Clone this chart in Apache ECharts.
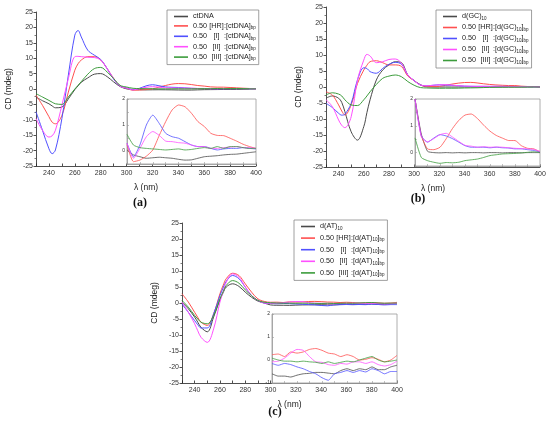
<!DOCTYPE html>
<html>
<head>
<meta charset="utf-8">
<script src="https://cdn.jsdelivr.net/npm/echarts@6/dist/echarts.min.js"></script>
<style>
  html, body { margin: 0; padding: 0; background: #fff; }
  #chart { width: 550px; height: 428px; }
</style>
</head>
<body>
<div id="chart"></div>
<script>
// wavelengths (nm) shared by every curve
const wavelength = [230,235,240,242.5,245,250,255,260,262.5,265,270,275,280,285,290,295,300,
  305,310,315,320,325,330,335,340,345,350,355,360,365,370,375,380,385,390,395,400];

// (a) ctDNA
const ctDNA = [-2.6,-3.8,-4.8,-5.5,-6.1,-5.9,-3.2,-0.2,1,2.2,3.6,4.8,5,4,2.3,0.8,0.04,
  -0.15,-0.22,-0.28,-0.26,-0.24,-0.26,-0.28,-0.32,-0.35,-0.34,-0.28,-0.22,-0.2,-0.18,-0.15,-0.13,-0.12,-0.09,-0.06,-0.03];
const hrCt = [-2,-5.3,-9,-10.8,-11.3,-8.6,-1,6.1,8.2,9.4,10.5,10.5,9.4,6.6,3.4,0.9,0.25,
  -0.41,-0.35,-0.2,0.04,0.6,1.13,1.58,1.77,1.7,1.45,1.13,0.94,0.68,0.6,0.59,0.49,0.38,0.26,0.17,0.1];
const iCt = [-7.4,-13.4,-19.4,-21,-19.8,-9.6,4.5,17.5,19,16.9,12.6,11,9.6,6.6,3.2,0.9,0.3,
  -0.22,0.23,1.0,1.38,1.06,0.68,0.55,0.49,0.36,0.23,0.17,0.17,0.1,0.04,0.08,0.1,0.1,0.13,0.1,0.08];
const iiCt = [-9.6,-13.4,-15.6,-15.2,-13.4,-5.3,3.4,10.5,10.6,10.5,10.3,10.2,9.4,6.6,3.4,0.9,0.3,
  -0.28,0.1,0.55,0.75,0.6,0.38,0.36,0.32,0.3,0.23,0.17,0.17,0.1,0.1,0.13,0.15,0.17,0.13,0.13,0.1];
const iiiCt = [-1.5,-2.6,-3.7,-4.3,-4.8,-5,-2.6,0,1.2,2.4,4.8,6.6,7,5.5,3.4,1.2,0.64,
  0.23,0.13,0.1,0.08,0.06,0.04,0.06,0.08,0.04,0.06,0.1,0.13,0.1,0.17,0.1,0.17,0.17,0.13,0.1,0.1];

// (b) d(GC)10
const gc10 = [-3.5,-2.8,-3.5,-4.8,-7.7,-14,-16.6,-12.4,-8,-4,2.2,5.3,6.9,7.9,7.6,3.75,2.0,
  0.7,0.05,0,-0.01,0,-0.01,0,-0.01,0,0,-0.01,0,0,-0.01,0,0,-0.01,0,0,0];
const hrGc = [-1.5,-2.5,-5.6,-7.5,-8.75,-5.6,1.1,5.3,6.8,7.9,8.2,7.6,6.9,6.9,6.4,3.4,2.0,
  0.64,0.14,0.11,0.2,0.52,0.9,1.2,1.4,1.44,1.27,1.02,0.8,0.64,0.54,0.45,0.45,0.26,0.16,0.14,0.02];
const iGc = [-5.1,-6.4,-8.2,-8.8,-8.5,-5.1,2.2,6,5.8,4.8,4.3,5.8,7.1,7.7,7.1,3.75,2.0,
  0.64,0.39,0.54,0.67,0.62,0.52,0.39,0.26,0.2,0.2,0.2,0.18,0.2,0.18,0.17,0.14,0.14,0.11,0.08,0.02];
const iiGc = [-4,-6.1,-10.3,-12,-12.7,-9.3,2.2,8.4,10.2,9.7,7.6,7.9,8.6,8.75,7.4,3.75,2.0,
  0.6,0.4,0.52,0.67,0.72,0.58,0.42,0.27,0.24,0.2,0.22,0.2,0.21,0.2,0.18,0.16,0.15,0.14,0.12,0.05];
const iiiGc = [-2.5,-1.8,-2.2,-2.8,-4,-5.6,-5.8,-4,-2.8,-1.5,0.8,2.7,3.4,3.75,3.2,1.7,0.55,
  -0.18,-0.3,-0.36,-0.4,-0.37,-0.38,-0.36,-0.3,-0.27,-0.24,-0.18,-0.11,-0.08,-0.05,-0.04,-0.03,-0.01,0.01,0.03,0];

// (c) d(AT)10
const at10 = [0.3,-1.8,-4.4,-6,-7.6,-9,-4.4,1,3.2,5,6,5.2,3.4,1.8,0.6,0,-0.6,
  -0.7,-0.7,-0.74,-0.66,-0.6,-0.58,-0.54,-0.54,-0.57,-0.6,-0.46,-0.38,-0.46,-0.38,-0.42,-0.3,-0.42,-0.42,-0.3,-0.23];
const hrAt = [2.9,0.3,-2.9,-4.5,-6,-7,-3.4,2.9,5.5,7.6,9.3,8.6,6,3.4,1.3,0.5,0.23,
  0.26,0.15,0.35,0.3,0.35,0.46,0.5,0.42,0.3,0.26,0.15,0.23,0.15,0,0.03,0.1,0.03,-0.08,0,0.2];
const iAt = [-0.3,-2.9,-5.5,-6.8,-7.8,-7.8,-3.4,2.3,4.7,6.8,8.6,7.6,5,2.3,0.8,0,-0.15,
  -0.23,-0.15,-0.2,-0.3,-0.38,-0.5,-0.6,-0.77,-0.88,-0.6,-0.54,-0.46,-0.54,-0.46,-0.52,-0.38,-0.46,-0.6,-0.5,-0.5];
const iiAt = [0.3,-2.9,-6.5,-8.7,-10.7,-12.3,-8.1,0.3,3.5,6.5,9.1,8.1,5,2.3,0.8,0,-0.08,
  -0.05,0.08,0.3,0.46,0.42,0.15,-0.08,-0.1,-0.2,-0.23,-0.15,-0.18,-0.08,-0.08,-0.15,-0.08,-0.2,-0.26,-0.2,-0.05];
const iiiAt = [0.8,-1.3,-3.9,-5,-6,-6.5,-3.9,1.3,3.5,5.5,7,6.2,4.1,2.3,0.8,0.26,0.08,
  0,-0.05,-0.05,-0.08,-0.05,-0.08,-0.1,-0.15,-0.08,-0.15,-0.1,-0.05,-0.08,0,0.08,0.15,0,-0.08,-0.05,0];

const colors = ['#4a4a4a', '#ff5050', '#5050ff', '#ff50ff', '#3c9c3c'];

const panels = [
  { tag: '(a)', main: {left: 36, top: 12, width: 220, height: 154},
    inset: {left: 127, top: 99, width: 129, height: 65}, insetMin: -0.5, insetStep: 0.5,
    legend: {left: 167, top: 10, gap: 2.4}, label: [140, 203],
    names: ['ctDNA', '0.50 [HR]:[ctDNA]bp', '0.50 [I]:[ctDNA]bp', '0.50 [II]:[ctDNA]bp', '0.50 [III]:[ctDNA]bp'],
    text: ['ctDNA', '0.50 {r|[HR]}:[ctDNA]{s|bp}', '0.50 {r|[I]}:[ctDNA]{s|bp}', '0.50 {r|[II]}:[ctDNA]{s|bp}', '0.50 {r|[III]}:[ctDNA]{s|bp}'],
    values: [ctDNA, hrCt, iCt, iiCt, iiiCt] },
  { tag: '(b)', main: {left: 326, top: 7, width: 214, height: 160},
    inset: {left: 415, top: 99, width: 125, height: 67}, insetMin: -0.5, insetStep: 0.5,
    legend: {left: 436, top: 10, gap: 3}, label: [418, 199],
    names: ['d(GC)10', '0.50 [HR]:[d(GC)10]bp', '0.50 [I]:[d(GC)10]bp', '0.50 [II]:[d(GC)10]bp', '0.50 [III]:[d(GC)10]bp'],
    text: ['d(GC){s|10}', '0.50 {r|[HR]}:[d(GC){s|10}]{s|bp}', '0.50 {r|[I]}:[d(GC){s|10}]{s|bp}', '0.50 {r|[II]}:[d(GC){s|10}]{s|bp}', '0.50 {r|[III]}:[d(GC){s|10}]{s|bp}'],
    values: [gc10, hrGc, iGc, iiGc, iiiGc] },
  { tag: '(c)', main: {left: 182, top: 223, width: 215, height: 160},
    inset: {left: 272, top: 314, width: 125, height: 69}, insetMin: -1, insetStep: 1,
    legend: {left: 294, top: 220, gap: 3.6}, label: [275, 412],
    names: ['d(AT)10', '0.50 [HR]:[d(AT)10]bp', '0.50 [I]:[d(AT)10]bp', '0.50 [II]:[d(AT)10]bp', '0.50 [III]:[d(AT)10]bp'],
    text: ['d(AT){s|10}', '0.50 {r|[HR]}:[d(AT){s|10}]{s|bp}', '0.50 {r|[I]}:[d(AT){s|10}]{s|bp}', '0.50 {r|[II]}:[d(AT){s|10}]{s|bp}', '0.50 {r|[III]}:[d(AT){s|10}]{s|bp}'],
    values: [at10, hrAt, iAt, iiAt, iiiAt] }
];

const font = 'Liberation Sans';
const grid = [], xAxis = [], yAxis = [], series = [], legend = [], graphic = [];

panels.forEach((p, pi) => {
  const mi = pi * 2, ii = pi * 2 + 1;
  grid.push(Object.assign({}, p.main, {containLabel: false}));
  grid.push(Object.assign({}, p.inset, {containLabel: false, show: true, z: 10,
    backgroundColor: '#fff', borderColor: '#999', borderWidth: 0.8}));

  xAxis.push({
    type: 'value', gridIndex: mi, min: 230, max: 400, interval: 10,
    name: 'λ (nm)', nameLocation: 'middle', nameGap: 17,
    nameTextStyle: {fontFamily: font, fontSize: 8.5, color: '#222'},
    axisLine: {onZero: false, lineStyle: {color: '#222', width: 0.8}},
    axisTick: {inside: true, length: 2.5, lineStyle: {color: '#222', width: 0.8}},
    axisLabel: {fontFamily: font, fontSize: 7, color: '#333', margin: 4,
      formatter: v => (v % 20 === 0 ? v : '')},
    splitLine: {show: false}
  });
  xAxis.push({
    type: 'value', gridIndex: ii, min: 300, max: 400, interval: 10, z: 11,
    axisLine: {onZero: false, lineStyle: {color: '#999', width: 0.8}},
    axisTick: {inside: true, length: 2, lineStyle: {color: '#999', width: 0.6}},
    axisLabel: {show: false}, splitLine: {show: false}
  });
  yAxis.push({
    type: 'value', gridIndex: mi, min: -25, max: 25, interval: 5,
    name: 'CD (mdeg)', nameLocation: 'middle', nameGap: 23,
    nameTextStyle: {fontFamily: font, fontSize: 8.5, color: '#222'},
    axisLine: {show: true, onZero: false, lineStyle: {color: '#222', width: 0.8}},
    axisTick: {length: 2.5, lineStyle: {color: '#222', width: 0.8}},
    minorTick: {show: true, splitNumber: 2, length: 1.5, lineStyle: {color: '#222', width: 0.6}},
    axisLabel: {fontFamily: font, fontSize: 7, color: '#333', margin: 3},
    splitLine: {show: false}
  });
  yAxis.push({
    type: 'value', gridIndex: ii, min: p.insetMin, max: 2, interval: p.insetStep, z: 11,
    axisLine: {show: true, onZero: false, lineStyle: {color: '#999', width: 0.8}},
    axisTick: {inside: true, length: 2, lineStyle: {color: '#999', width: 0.6}},
    axisLabel: {fontFamily: font, fontSize: 5, color: '#333', margin: 2,
      formatter: v => (Number.isInteger(v) ? v : '')},
    splitLine: {show: false}
  });

  p.values.forEach((vals, k) => {
    const pts = wavelength.map((w, j) => [w, vals[j]]);
    series.push({
      type: 'line', name: p.names[k], xAxisIndex: mi, yAxisIndex: mi,
      data: pts, smooth: 0.35, symbol: 'none', z: 2,
      lineStyle: {color: colors[k], width: 1}, itemStyle: {color: colors[k]}
    });
    series.push({
      type: 'line', name: p.names[k], xAxisIndex: ii, yAxisIndex: ii,
      data: pts.filter(d => d[0] >= 300), smooth: 0.2, symbol: 'none', z: 12,
      lineStyle: {color: colors[k], width: 0.8}, itemStyle: {color: colors[k]}
    });
  });

  const lookup = {};
  p.names.forEach((n, k) => { lookup[n] = p.text[k]; });
  legend.push({
    orient: 'vertical', left: p.legend.left, top: p.legend.top, z: 20,
    data: p.names, selectedMode: false,
    icon: 'rect', itemWidth: 14, itemHeight: 1.6, itemGap: p.legend.gap,
    padding: [3, 3, 3, 7],
    backgroundColor: '#fff', borderColor: '#888', borderWidth: 0.8,
    formatter: n => lookup[n],
    textStyle: {fontFamily: font, fontSize: 7.2, color: '#222',
      rich: {
        r: {fontFamily: font, fontSize: 7.2, width: 15, align: 'right'},
        s: {fontFamily: font, fontSize: 4.5, verticalAlign: 'bottom', padding: [4, 0, 0, 0]}
      }}
  });

  graphic.push({
    type: 'text', x: p.label[0], y: p.label[1],
    style: {text: p.tag, font: 'bold 12px "Liberation Serif"', fill: '#111',
      align: 'center', verticalAlign: 'middle'}
  });
});

const chart = echarts.init(document.getElementById('chart'), null, {renderer: 'canvas'});
chart.setOption({
  animation: false,
  backgroundColor: '#fff',
  grid, xAxis, yAxis, series, legend, graphic
});
</script>
</body>
</html>
